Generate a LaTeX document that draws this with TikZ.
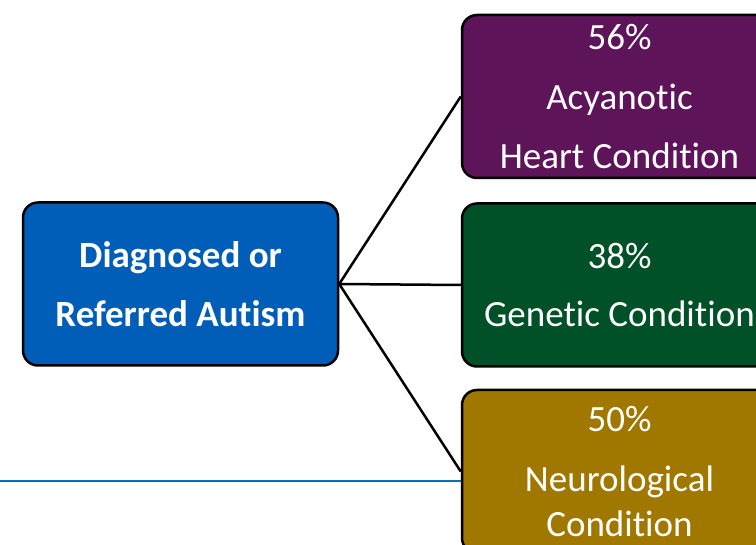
\documentclass[tikz,border=0pt]{standalone}
\usepackage{fontspec}
\setmainfont[Ligatures={NoCommon}]{Carlito}
\definecolor{boxblue}{RGB}{0,94,184}
\definecolor{boxpurple}{RGB}{94,20,88}
\definecolor{boxgreen}{RGB}{0,80,40}
\definecolor{boxgold}{RGB}{160,120,0}
\definecolor{lineblue}{RGB}{0,112,192}
\begin{document}
\begin{tikzpicture}[x=1pt,y=-1pt]
\useasboundingbox (0,0) rectangle (756,545);
\tikzset{
  box/.style={draw=black, line width=2.5pt, rounded corners=15pt,
    minimum width=315pt, minimum height=163pt, inner sep=0pt,
    align=center, text=white, font=\fontsize{37}{45}\selectfont},
  conn/.style={line width=2.5pt, draw=black},
  blueline/.style={line width=2.2pt, draw=lineblue}
}
\coordinate (edge) at (0,481);
\node[box, fill=boxblue] (L) at (180.5,284) {\bfseries Diagnosed or\\[14pt]\bfseries Referred Autism};
\node[box, fill=boxpurple] (P) at (619.5,96.5) {56\%\\[15pt]Acyanotic\\[14pt]Heart Condition};
\node[box, fill=boxgreen] (G) at (619.5,285) {38\%\\[13pt]Genetic Condition};
\node[box, fill=boxgold] (N) at (619.5,471.5) {50\%\\[15pt]Neurological\\Condition};
\draw[blueline] (edge) -- (edge -| N.west);
\draw[conn] (L.east) -- (P.west);
\draw[conn] (L.east) -- (G.west);
\draw[conn] (L.east) -- (N.west);
\end{tikzpicture}
\end{document}
